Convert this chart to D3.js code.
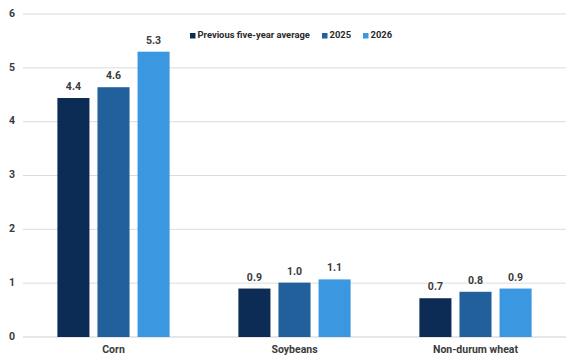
<!DOCTYPE html>
<html>
<head>
<meta charset="utf-8">
<script src="https://cdn.jsdelivr.net/npm/d3@7"></script>
<style>
  html, body { margin: 0; padding: 0; background: #fff; }
  svg { display: block; font-family: Roboto, "Noto Sans", sans-serif; }
</style>
</head>
<body>
<div id="chart"></div>
<script>
const categories = ['Corn', 'Soybeans', 'Non-durum wheat'];
const seriesNames = ['Previous five-year average', '2025', '2026'];
const avgValues = [4.44, 0.90, 0.72];
const v2025 = [4.64, 1.01, 0.84];
const v2026 = [5.30, 1.07, 0.90];
const yTicks = [0, 1, 2, 3, 4, 5, 6];
const colors = ['#0c2c55', '#21609a', '#3a97e0'];

const W = 579, H = 363;
const x0Range = [23, 566];
const y0 = 337, yTop = 14;

const rows = categories.map((c, i) => ({
  cat: c,
  vals: [avgValues[i], v2025[i], v2026[i]]
}));

const svg = d3.select('#chart').append('svg')
  .attr('width', W).attr('height', H);

const y = d3.scaleLinear().domain([0, 6]).range([y0, yTop]);
const x0 = d3.scaleBand().domain(categories).range(x0Range)
  .paddingInner(0.38).paddingOuter(0.19);
const x1 = d3.scaleBand().domain(seriesNames).range([0, x0.bandwidth()])
  .paddingInner(0.2).paddingOuter(0);

// gridlines
svg.append('g').selectAll('line')
  .data(yTicks)
  .join('line')
  .attr('x1', x0Range[0]).attr('x2', x0Range[1])
  .attr('y1', d => y(d)).attr('y2', d => y(d))
  .attr('stroke', d => d === 0 ? '#cfcfcf' : '#dcdcdc')
  .attr('stroke-width', 1);

svg.append('g').selectAll('text')
  .data(yTicks)
  .join('text')
  .attr('x', 12).attr('y', d => y(d))
  .attr('text-anchor', 'middle')
  .attr('dominant-baseline', 'middle')
  .attr('font-size', 10.5)
  .attr('font-weight', 'bold')
  .attr('fill', '#3a3a3a')
  .text(d => d);

const g = svg.append('g').selectAll('g')
  .data(rows)
  .join('g')
  .attr('transform', d => `translate(${x0(d.cat)},0)`);

g.selectAll('rect')
  .data(d => d.vals.map((v, i) => ({ key: seriesNames[i], v, i })))
  .join('rect')
  .attr('x', d => x1(d.key))
  .attr('width', x1.bandwidth())
  .attr('y', d => y(d.v))
  .attr('height', d => y0 - y(d.v))
  .attr('fill', d => colors[d.i]);

g.selectAll('text.val')
  .data(d => d.vals.map((v, i) => ({ key: seriesNames[i], v, i })))
  .join('text')
  .attr('class', 'val')
  .attr('x', d => x1(d.key) + x1.bandwidth() / 2)
  .attr('y', d => y(d.v) - 8)
  .attr('text-anchor', 'middle')
  .attr('font-size', 10.5)
  .attr('font-weight', 'bold')
  .attr('fill', '#3a3a3a')
  .text(d => d3.format('.1f')(d.v));

svg.append('g').selectAll('text')
  .data(categories)
  .join('text')
  .attr('x', d => x0(d) + x0.bandwidth() / 2)
  .attr('y', 353)
  .attr('text-anchor', 'middle')
  .attr('font-size', 10.5)
  .attr('font-weight', 'bold')
  .attr('fill', '#3a3a3a')
  .text(d => d);

// legend
const legendX = [190, 322, 363];
const lg = svg.append('g').selectAll('g')
  .data(seriesNames)
  .join('g')
  .attr('transform', (d, i) => `translate(${legendX[i]},36)`);
lg.append('rect')
  .attr('x', 0).attr('y', -3).attr('width', 5.5).attr('height', 5.5)
  .attr('fill', (d, i) => colors[i]);
lg.append('text')
  .attr('x', 7.5).attr('y', 0)
  .attr('dominant-baseline', 'middle')
  .attr('font-size', 9.4)
  .attr('font-weight', 'bold')
  .attr('fill', '#2a2a2a')
  .text(d => d);
</script>
</body>
</html>
